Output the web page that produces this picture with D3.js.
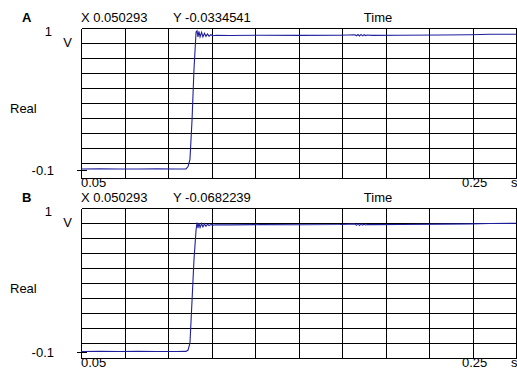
<!DOCTYPE html>
<html>
<head>
<meta charset="utf-8">
<script src="https://cdn.jsdelivr.net/npm/d3@7"></script>
<style>
  html, body { margin: 0; padding: 0; background: #fff; }
  svg { display: block; }
  text { font-family: "Liberation Sans", Arial, sans-serif; font-size: 13px; fill: #000; }
</style>
</head>
<body>
<svg id="chart" width="517" height="372"></svg>
<script>
// ---- data ----
const panelNames = ["A", "B"];
const cursorX = ["X 0.050293", "X 0.050293"];
const cursorY = ["Y -0.0334541", "Y -0.0682239"];
const xTickValues = [0.05, 0.25];
const xTickLabels = ["0.05", "0.25"];
const yTickValues = [1, -0.1];
const yTickLabels = ["1", "-0.1"];
const xUnit = "s";
const yUnit = "V";
const xTitle = "Time";
const seriesName = "Real";

const timeA = [0.05, 0.06, 0.07, 0.08, 0.09, 0.1, 0.1051, 0.1062, 0.1072, 0.1083, 0.1093, 0.1104, 0.1109,
  0.1114, 0.1119, 0.1125, 0.1133, 0.114, 0.1148, 0.1156, 0.1164, 0.1172, 0.1182, 0.1193, 0.1209,
  0.1282, 0.144, 0.165, 0.186, 0.1938, 0.1946, 0.1954, 0.1962, 0.197, 0.1978, 0.1986, 0.1994, 0.2002,
  0.2028, 0.2175, 0.2385, 0.2542, 0.2647, 0.2784];
const realA = [-0.096, -0.095, -0.096, -0.096, -0.095, -0.096, -0.095, -0.077, -0.022, 0.288, 0.676, 0.970, 0.978,
  0.931, 0.974, 0.931, 0.966, 0.931, 0.958, 0.935, 0.954, 0.937, 0.948, 0.940, 0.944,
  0.942, 0.944, 0.943, 0.944, 0.948, 0.940, 0.949, 0.938, 0.950, 0.939, 0.948, 0.941, 0.946,
  0.943, 0.944, 0.945, 0.947, 0.951, 0.952];

const timeB = [0.05, 0.06, 0.07, 0.08, 0.09, 0.1, 0.1051, 0.1062, 0.1072, 0.1083, 0.1093, 0.1104, 0.1109,
  0.1114, 0.1119, 0.1125, 0.1133, 0.114, 0.1148, 0.1156, 0.1164, 0.1172, 0.1182, 0.1193, 0.1209,
  0.1282, 0.144, 0.165, 0.186, 0.1938, 0.1946, 0.1954, 0.1962, 0.197, 0.1978, 0.1986, 0.1994, 0.2002,
  0.2028, 0.2175, 0.2385, 0.2542, 0.2647, 0.2784];
const realB = [-0.096, -0.095, -0.096, -0.095, -0.096, -0.096, -0.095, -0.085, -0.031, 0.297, 0.603, 0.832, 0.889,
  0.847, 0.885, 0.851, 0.882, 0.855, 0.878, 0.860, 0.876, 0.866, 0.873, 0.869, 0.872,
  0.871, 0.873, 0.872, 0.874, 0.879, 0.868, 0.880, 0.867, 0.878, 0.869, 0.876, 0.870, 0.874,
  0.873, 0.874, 0.877, 0.879, 0.882, 0.883];

const seriesTimes = [timeA, timeB];
const seriesValues = [realA, realB];

// ---- layout ----
const svg = d3.select("#chart");
const plotLeft = 81, plotRight = 516;
const layouts = [
  { top: 28, bottom: 178, yLow: 169.5 },
  { top: 208, bottom: 358, yLow: 352 }
];
const nCols = 10, nRows = 10;

const x = d3.scaleLinear().domain([0.05, 0.25]).range([plotLeft, 462]);

layouts.forEach((L, i) => {
  const g = svg.append("g");
  const y = d3.scaleLinear().domain([-0.1, 1]).range([L.yLow, L.top]);

  // grid
  const colW = (plotRight - plotLeft) / nCols;
  const rowH = (L.bottom - L.top) / nRows;
  const grid = g.append("g").attr("shape-rendering", "crispEdges").attr("stroke", "#000").attr("stroke-width", 1);
  d3.range(nCols + 1).forEach(k => {
    const xx = Math.round(plotLeft + k * colW) + 0.5;
    grid.append("line").attr("x1", xx).attr("x2", xx).attr("y1", L.top + 0.5).attr("y2", L.bottom + 0.5);
  });
  d3.range(nRows + 1).forEach(k => {
    const yy = Math.round(L.top + k * rowH) + 0.5;
    grid.append("line").attr("x1", plotLeft + 0.5).attr("x2", plotRight + 0.5).attr("y1", yy).attr("y2", yy);
  });
  // -0.1 tick
  grid.append("line").attr("x1", plotLeft - 4).attr("x2", plotLeft + 6)
    .attr("y1", Math.round(y(-0.1)) + 0.5).attr("y2", Math.round(y(-0.1)) + 0.5);

  // trace
  const pts = seriesTimes[i].map((t, k) => [t, seriesValues[i][k]]);
  const line = d3.line().x(d => x(d[0])).y(d => y(d[1]));
  g.append("path").datum(pts).attr("d", line)
    .attr("fill", "none").attr("stroke", "#1f1f9e").attr("stroke-width", 1.1);

  // header
  const hy = L.top - 6;
  g.append("text").attr("x", 22).attr("y", hy).attr("font-weight", "bold").text(panelNames[i]);
  g.append("text").attr("x", plotLeft).attr("y", hy).text(cursorX[i]);
  g.append("text").attr("x", 173).attr("y", hy).text(cursorY[i]);
  g.append("text").attr("x", 378).attr("y", hy).attr("text-anchor", "middle").text(xTitle);

  // y labels
  g.append("text").attr("x", 52).attr("y", L.top + 8).attr("text-anchor", "end").text(yTickLabels[0]);
  g.append("text").attr("x", 72).attr("y", L.top + 19).attr("text-anchor", "end").text(yUnit);
  g.append("text").attr("x", 54).attr("y", y(yTickValues[1]) + 5).attr("text-anchor", "end").text(yTickLabels[1]);
  g.append("text").attr("x", 10).attr("y", (L.top + L.bottom) / 2 + 10).text(seriesName);

  // x labels
  const xy = L.bottom + 9;
  g.append("text").attr("x", x(xTickValues[0])).attr("y", xy).text(xTickLabels[0]);
  g.append("text").attr("x", x(xTickValues[1])).attr("y", xy).text(xTickLabels[1]);
  g.append("text").attr("x", 511).attr("y", xy).text(xUnit);
});
</script>
</body>
</html>
